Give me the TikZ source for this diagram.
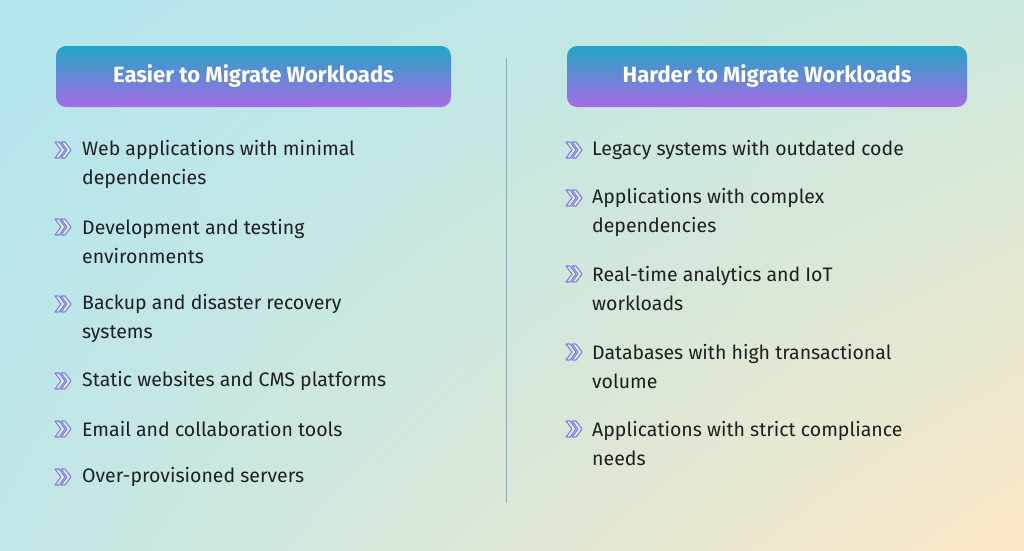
\documentclass[tikz,border=0pt]{standalone}
\usepackage{fontspec}
\setmainfont{Fira Sans}
\usetikzlibrary{shadings}
\begin{document}
\begin{tikzpicture}[x=1pt,y=-1pt,
  hdr/.style={rounded corners=10pt, top color=hdrtop, bottom color=hdrbot, draw=none},
  htext/.style={text=white, font=\fontsize{22}{24}\selectfont\bfseries},
  item/.style={anchor=west, align=left, font=\fontsize{19.5}{29}\selectfont, text=black!88, inner sep=0pt},
  chev/.style={draw=chevc, line width=1.1pt, line join=round, fill=chevc!15}]
\definecolor{hdrtop}{HTML}{22A6C4}
\definecolor{hdrbot}{HTML}{A86AE6}
\definecolor{chevc}{HTML}{7B7FE0}
\definecolor{bgA}{HTML}{B2E6EE}
\definecolor{bgB}{HTML}{FCE8C6}
\definecolor{bgC}{HTML}{CBE8DE}
\useasboundingbox (0,0) rectangle (1024,550);
\shade[upper left=bgA, lower right=bgB, upper right=bgC, lower left=bgA!80!bgB] (0,0) rectangle (1024,550);
\draw[color=black!25!bgA, line width=0.8pt] (506,58) coordinate (d1) -- (506,503) coordinate (d2);
\newcommand{\chv}[2]{%
  \draw[chev] (#1-9,#2-8) -- (#1-3,#2) -- (#1-9,#2+8) -- (#1-5,#2+8) -- (#1+1,#2) -- (#1-5,#2-8) -- cycle;
  \draw[chev] (#1-3,#2-8) -- (#1+3,#2) -- (#1-3,#2+8) -- (#1+1,#2+8) -- (#1+7,#2) -- (#1+1,#2-8) -- cycle;}
\node[hdr, minimum width=395pt, minimum height=61pt] (hl) at (253.5,76.5) {};
\node[htext] (hlt) at (hl) {Easier to Migrate Workloads};
\node[hdr, minimum width=400pt, minimum height=61pt] (hr) at (767,76.5) {};
\node[htext] (hrt) at (hr) {Harder to Migrate Workloads};
% left
\chv{64}{150}\node[item] (l1) at (82,164.5) {Web applications with minimal\\dependencies};
\chv{64}{227}\node[item] (l2) at (82,241.5) {Development and testing\\environments};
\chv{64}{304}\node[item] (l3) at (82,318.5) {Backup and disaster recovery\\systems};
\chv{64}{381}\node[item] (l4) at (82,381) {Static websites and CMS platforms};
\chv{64}{429}\node[item] (l5) at (82,429) {Email and collaboration tools};
\chv{64}{477}\node[item] (l6) at (82,477) {Over-provisioned servers};
% right
\chv{575}{150}\node[item] (r1) at (592,150) {Legacy systems with outdated code};
\chv{575}{198}\node[item] (r2) at (592,212.5) {Applications with complex\\dependencies};
\chv{575}{274}\node[item] (r3) at (592,288.5) {Real-time analytics and IoT\\workloads};
\chv{575}{352}\node[item] (r4) at (592,366.5) {Databases with high transactional\\volume};
\chv{575}{429}\node[item] (r5) at (592,443.5) {Applications with strict compliance\\needs};
\end{tikzpicture}
\end{document}
